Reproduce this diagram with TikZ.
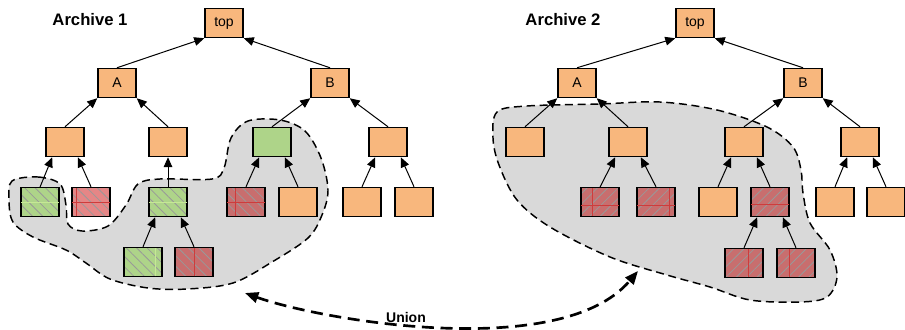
\documentclass[tikz,border=0pt]{standalone}
\usepackage{fontspec}
\setmainfont{Liberation Sans}
\usetikzlibrary{arrows.meta,patterns.meta}

\definecolor{boxorange}{RGB}{248,183,125}
\definecolor{boxgreen}{RGB}{174,212,137}
\definecolor{boxred}{RGB}{200,110,110}
\definecolor{boxpink}{RGB}{229,134,134}
\definecolor{blobgray}{RGB}{217,217,217}
\definecolor{seamred}{RGB}{205,60,60}
\definecolor{seamgreen}{RGB}{198,232,150}

\begin{document}
\begin{tikzpicture}[x=0.75pt, y=-0.75pt,
    box/.style={rectangle, draw=black, line width=1.1pt, fill=boxorange,
                minimum width=28.5pt, minimum height=21.75pt, inner sep=0pt,
                font=\fontsize{10.5}{12}\selectfont},
    nwbox/.style={box, preaction={fill=#1},
                  pattern={Lines[angle=-45, distance=5.5pt, line width=0.6pt]},
                  pattern color=black!40},
    nebox/.style={box, preaction={fill=#1},
                  pattern={Lines[angle=45, distance=5.5pt, line width=0.6pt]},
                  pattern color=black!40},
    arr/.style={-{Triangle[length=7.5pt, width=6.5pt]}, line width=0.75pt},
    blob/.style={fill=blobgray, draw=black, line width=1.1pt,
                 dash pattern=on 6pt off 3.5pt},
    union/.style={{Triangle[length=10pt, width=8pt]}-{Triangle[length=10pt, width=8pt]},
                  line width=2pt, dash pattern=on 9pt off 5pt},
    title/.style={font=\fontsize{12.5}{14}\selectfont\bfseries},
    rseam/.style={seamred, line width=0.4pt, shorten <=0.6pt, shorten >=0.6pt},
    gseam/.style={seamgreen, line width=0.4pt, shorten <=0.6pt, shorten >=0.6pt}
]
    \useasboundingbox (0,0) rectangle (905,329);

    % shaded regions
    \draw[blob] plot[smooth cycle, tension=0.55] coordinates {
        (12,181) (38,177) (60,184) (66,205) (68,224) (82,231) (108,226)
        (126,205) (138,184) (160,179) (212,179) (224,168) (231,138)
        (248,121) (280,120) (305,131) (321,158) (328,190) (322,215)
        (308,238) (272,262) (233,283) (187,289) (148,288) (110,279)
        (86,263) (66,250) (33,237) (13,222) (9,200)};
    \draw[blob] plot[smooth cycle, tension=0.55] coordinates {
        (497,112) (527,106) (600,104) (660,102) (717,110) (767,127)
        (793,147) (801,170) (803,193) (810,223) (830,250) (837,277)
        (827,297) (800,302) (750,300) (710,287) (667,275) (610,257)
        (550,227) (517,200) (499,165) (493,138)};

    % first archive
    \node[title] (t1) at (90,20) {Archive 1};
    \node[box] (T1) at (224,23) {top};
    \node[box] (A1) at (117,83) {A};
    \node[box] (B1) at (330,83) {B};
    \node[box] (c1) at (65,142) {};
    \node[box] (c2) at (168,142) {};
    \node[box, fill=boxgreen] (c3) at (272,142) {};
    \node[box] (c4) at (388,142) {};
    \node[nwbox=boxgreen] (d1) at (40,202) {};
    \node[nwbox=boxpink] (d2) at (91,202) {};
    \node[nwbox=boxgreen] (d3) at (168,202) {};
    \node[nwbox=boxred] (d4) at (246,202) {};
    \node[box] (d5) at (298,202) {};
    \node[box] (d6) at (362,202) {};
    \node[box] (d7) at (414,202) {};
    \node[nwbox=boxgreen] (e1) at (143,262) {};
    \node[nwbox=boxred] (e2) at (194,262) {};

    \draw[gseam] (d1.west) -- (d1.east);
    \draw[rseam] ([xshift=3.4pt]d2.south west) -- ([xshift=3.4pt]d2.north west);
    \draw[rseam] (d2.west) -- (d2.east);
    \draw[gseam] (d3.west) -- (d3.east);
    \draw[rseam] ([xshift=7.1pt]d4.south west) -- ([xshift=7.1pt]d4.north west);
    \draw[rseam] (d4.west) -- (d4.east);
    \draw[gseam] ([xshift=24.2pt]e1.south west) -- ([xshift=24.2pt]e1.north west);
    \draw[rseam] (e2.south) -- (e2.north);

    \draw[arr] (A1.north) -- (T1.south west);
    \draw[arr] (B1.north) -- (T1.south east);
    \draw[arr] (c1.north) -- (A1.south west);
    \draw[arr] (c2.north) -- (A1.south east);
    \draw[arr] (c3.north) -- (B1.south west);
    \draw[arr] (c4.north) -- (B1.south east);
    \draw[arr] (d1.north) -- (c1.-130);
    \draw[arr] (d2.north) -- (c1.-50);
    \draw[arr] (d3) -- (c2);
    \draw[arr] (d4.north) -- (c3.-130);
    \draw[arr] (d5.north) -- (c3.-50);
    \draw[arr] (d6.north) -- (c4.-130);
    \draw[arr] (d7.north) -- (c4.-50);
    \draw[arr] (e1.north) -- (d3.-130);
    \draw[arr] (e2.north) -- (d3.-50);

    % second archive
    \node[title] (t2) at (563,20) {Archive 2};
    \node[box] (T2) at (695,23) {top};
    \node[box] (A2) at (577,83) {A};
    \node[box] (B2) at (803,83) {B};
    \node[box] (f1) at (525,142) {};
    \node[box] (f2) at (628,142) {};
    \node[box] (f3) at (744,142) {};
    \node[box] (f4) at (860,142) {};
    \node[nebox=boxred] (g1) at (600,202) {};
    \node[nebox=boxred] (g2) at (656,202) {};
    \node[box] (g3) at (718,202) {};
    \node[nebox=boxred] (g4) at (770,202) {};
    \node[box] (g5) at (835,202) {};
    \node[box] (g6) at (886,202) {};
    \node[nebox=boxred] (h1) at (744,263) {};
    \node[nebox=boxred] (h2) at (796,263) {};

    \draw[rseam] ([xshift=8.5pt]g1.south west) -- ([xshift=8.5pt]g1.north west);
    \draw[rseam] ([yshift=8.7pt]g1.south west) -- ([yshift=8.7pt]g1.south east);
    \draw[rseam] ([xshift=25.1pt]g2.south west) -- ([xshift=25.1pt]g2.north west);
    \draw[rseam] ([yshift=8.7pt]g2.south west) -- ([yshift=8.7pt]g2.south east);
    \draw[rseam] ([yshift=9.8pt]g4.south west) -- ([yshift=9.8pt]g4.south east);
    \draw[rseam] ([xshift=18pt]h1.south west) -- ([xshift=18pt]h1.north west);
    \draw[rseam] ([xshift=9.4pt]h2.south west) -- ([xshift=9.4pt]h2.north west);

    \draw[arr] (A2.north) -- (T2.south west);
    \draw[arr] (B2.north) -- (T2.south east);
    \draw[arr] (f1.north) -- (A2.south west);
    \draw[arr] (f2.north) -- (A2.south east);
    \draw[arr] (f3.north) -- (B2.south west);
    \draw[arr] (f4.north) -- (B2.south east);
    \draw[arr] (g1.north) -- (f2.-130);
    \draw[arr] (g2.north) -- (f2.-50);
    \draw[arr] (g3.north) -- (f3.-130);
    \draw[arr] (g4.north) -- (f3.-50);
    \draw[arr] (g5.north) -- (f4.-130);
    \draw[arr] (g6.north) -- (f4.-50);
    \draw[arr] (h1.north) -- (g4.-130);
    \draw[arr] (h2.north) -- (g4.-50);

    % merge of the two regions
    \coordinate (u1) at (245,293);
    \coordinate (u2) at (638,271);
    \draw[union] (u1) .. controls (320,320) and (561,362) .. (u2);
    \node[title, font=\fontsize{10.5}{12}\selectfont\bfseries] (un) at (406,317) {Union};
\end{tikzpicture}
\end{document}
